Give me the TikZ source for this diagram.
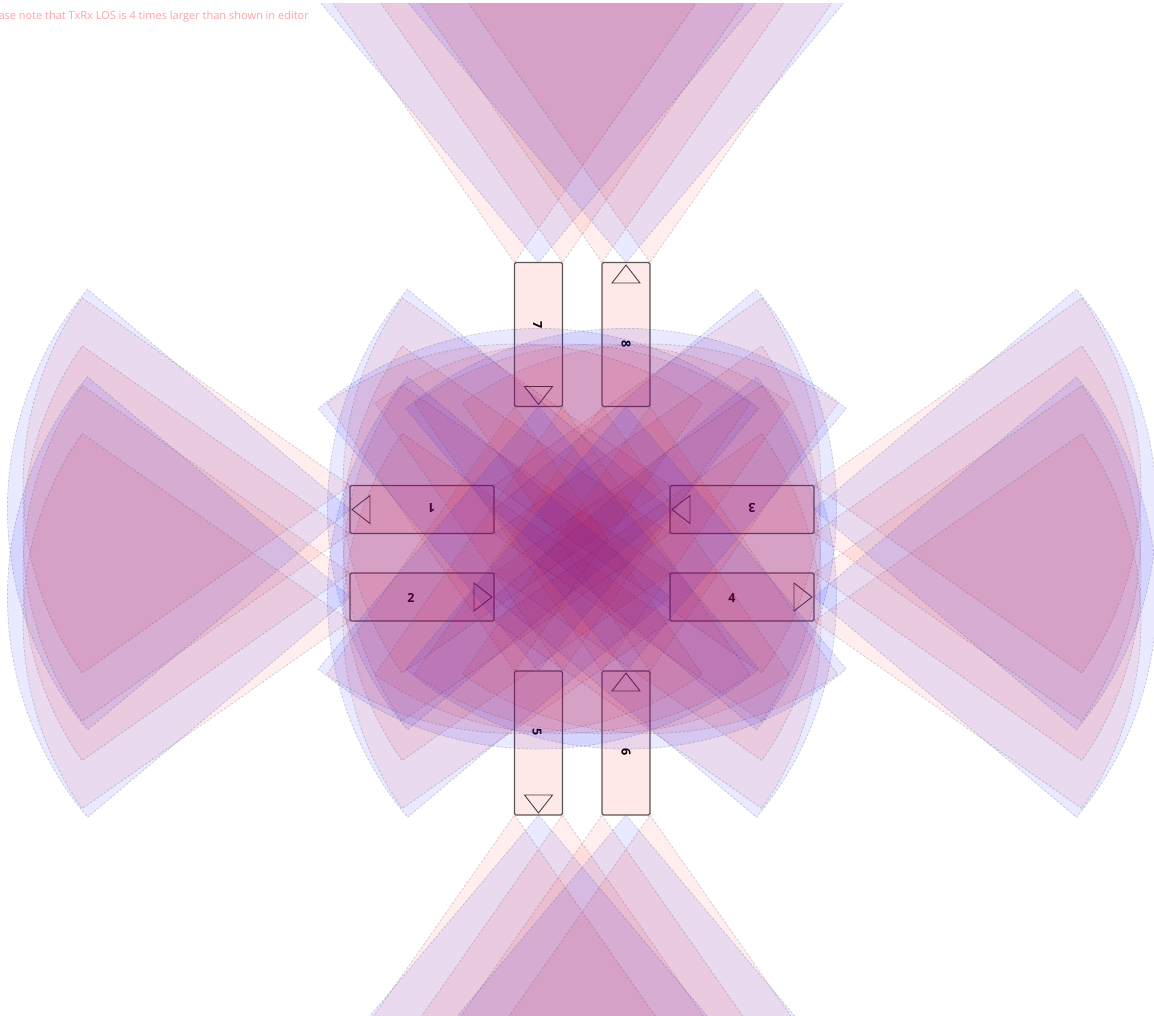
\documentclass[tikz,border=0pt]{standalone}
\usepackage{fontspec}
\setmainfont{Open Sans}
\tikzset{
  txfan/.style={fill={rgb,255:red,255;green,10;blue,0},fill opacity=0.07,draw={rgb,255:red,90;green,85;blue,110},draw opacity=0.27,line width=0.8pt,dash pattern=on 2.4pt off 1.8pt},
  rxfan/.style={fill={rgb,255:red,10;green,10;blue,255},fill opacity=0.09,draw={rgb,255:red,90;green,85;blue,110},draw opacity=0.27,line width=0.8pt,dash pattern=on 2.4pt off 1.8pt},
  sensorbox/.style={draw=black,draw opacity=0.65,fill={rgb,255:red,255;green,0;blue,0},fill opacity=0.09,text opacity=1,rounded corners=1.5pt,line width=1.1pt,inner sep=0pt,minimum width=144pt,minimum height=48pt},
  sensorlabel/.style={font=\bfseries\fontsize{12.5}{12.5}\selectfont,inner sep=0pt,text=black},
  marker/.style={draw=black,draw opacity=0.75,line width=0.85pt,line join=miter},
}
\newcommand{\wedgeshape}[6]{% x y dir r half style
  \path[#6] (#1,#2) -- ++({#3-#5}:#4) arc[start angle={#3-#5},end angle={#3+#5},radius=#4] -- cycle;}
\newcommand{\hfan}[5]{% x y1 yc y2 dir
  \wedgeshape{#1}{#2}{#5}{327}{35}{txfan}
  \wedgeshape{#1}{#4}{#5}{327}{35}{txfan}
  \wedgeshape{#1}{#3}{#5}{342.6}{40}{rxfan}}
\newcommand{\vfan}[5]{% y x1 xc x2 dir
  \wedgeshape{#2}{#1}{#5}{327}{35}{txfan}
  \wedgeshape{#4}{#1}{#5}{327}{35}{txfan}
  \wedgeshape{#3}{#1}{#5}{342.6}{40}{rxfan}}
\begin{document}
\begin{tikzpicture}[x=1pt,y=1pt,yscale=-1]
\useasboundingbox (0,0) rectangle (1154,1015);
\node[anchor=base east,inner sep=0pt,text={rgb,255:red,255;green,160;blue,165},font=\fontsize{11}{11}\selectfont] (note) at (309,19) {ase note that TxRx LOS is 4 times larger than shown in editor};
% sensor boxes
\node[sensorbox] (s1) at (422,509.5) {};
\node[sensorbox] (s2) at (422,597) {};
\node[sensorbox] (s3) at (742,509.5) {};
\node[sensorbox] (s4) at (742,597) {};
\node[sensorbox,minimum width=48pt,minimum height=144pt] (s5) at (538.5,743) {};
\node[sensorbox,minimum width=48pt,minimum height=144pt] (s6) at (626,743) {};
\node[sensorbox,minimum width=48pt,minimum height=144pt] (s7) at (538.5,334.5) {};
\node[sensorbox,minimum width=48pt,minimum height=144pt] (s8) at (626,334.5) {};
% labels
\node[sensorlabel,rotate=180] (l1) at (431.5,508) {1};
\node[sensorlabel] (l2) at (411,598) {2};
\node[sensorlabel,rotate=180] (l3) at (752,508) {3};
\node[sensorlabel] (l4) at (732,598) {4};
\node[sensorlabel,rotate=-90] (l5) at (537,732.5) {5};
\node[sensorlabel,rotate=-90] (l6) at (626,752) {6};
\node[sensorlabel,rotate=-90] (l7) at (537.5,325) {7};
\node[sensorlabel,rotate=-90] (l8) at (626,344) {8};
% direction markers
\draw[marker] (352,509.5) -- (370,495.5) -- (370,523.5) -- cycle;
\draw[marker] (492,597) -- (474,583) -- (474,611) -- cycle;
\draw[marker] (672,509.5) -- (690,495.5) -- (690,523.5) -- cycle;
\draw[marker] (812,597) -- (794,583) -- (794,611) -- cycle;
\draw[marker] (538.5,813) -- (524.5,795) -- (552.5,795) -- cycle;
\draw[marker] (626,673) -- (612,691) -- (640,691) -- cycle;
\draw[marker] (538.5,404.5) -- (524.5,386.5) -- (552.5,386.5) -- cycle;
\draw[marker] (626,265) -- (612,283) -- (640,283) -- cycle;
% coverage fans
\begin{scope}
\clip (0,3) rectangle (1154,1015);
\hfan{350}{485.5}{509.5}{533.5}{180}
\hfan{350}{573}{597}{621}{180}
\hfan{494}{485.5}{509.5}{533.5}{0}
\hfan{494}{573}{597}{621}{0}
\hfan{670}{485.5}{509.5}{533.5}{180}
\hfan{670}{573}{597}{621}{180}
\hfan{814}{485.5}{509.5}{533.5}{0}
\hfan{814}{573}{597}{621}{0}
\vfan{815}{514.5}{538.5}{562.5}{90}
\vfan{815}{602}{626}{650}{90}
\vfan{671}{514.5}{538.5}{562.5}{-90}
\vfan{671}{602}{626}{650}{-90}
\vfan{406.5}{514.5}{538.5}{562.5}{90}
\vfan{406.5}{602}{626}{650}{90}
\vfan{262.5}{514.5}{538.5}{562.5}{-90}
\vfan{262.5}{602}{626}{650}{-90}
\end{scope}
\end{tikzpicture}
\end{document}
